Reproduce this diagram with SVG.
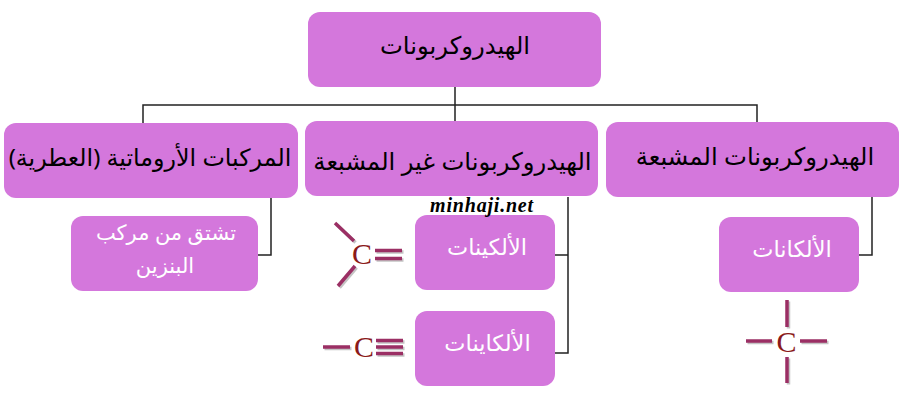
<svg xmlns="http://www.w3.org/2000/svg" width="902" height="401" viewBox="0 0 902 401">
<style>
.n{fill:#d477dc}
.t{font-family:"Noto Sans","DejaVu Sans",sans-serif;font-size:24.300px;fill:#000;text-anchor:middle;direction:rtl}
.w{font-family:"Noto Sans","DejaVu Sans",sans-serif;font-size:22.500px;fill:#fff;text-anchor:middle;direction:rtl}
.w2{font-size:21px}
.t2{font-size:23.800px}
.c{fill:none;stroke:#222;stroke-width:1.5}
.b{stroke:#9b2f64;stroke-width:3.500;fill:none}
.s{stroke:#c4c4c4;stroke-width:3.500;fill:none}
.l{font-family:"Liberation Serif",serif;font-size:30px;fill:#8b1a1a;text-anchor:middle}
</style>
<defs>
<path id="alkeneBars" d="M335 223L354 241M338 286L355 266M375 250.500H402M375 258.500H402"/>
<path id="alkyneBars" d="M323 347H350M376 340.500H403M376 347H403M376 353.500H403"/>
<path id="alkaneBars" d="M787 300V327M787 357V383M746 341H772M800 341H827"/>
</defs>
<g id="connectors">
<path class="c" d="M455 87V105M143 123V105H757V123M455 105V121"/>
<path class="c" d="M568 197V353H554M568 255H554M872 197V255H858M271 197V255H258"/>
</g>
<g id="root"><rect class="n" x="308" y="12" width="293" height="75" rx="12"/><text class="t" x="455" y="54">الهيدروكربونات</text></g>
<g id="n1"><rect class="n" x="4" y="123" width="294" height="75" rx="12"/><text class="t t2" x="150" y="166">المركبات الأروماتية (العطرية)</text></g>
<g id="n2"><rect class="n" x="305" y="121" width="293" height="75" rx="12"/><text class="t" x="452.500" y="170">الهيدروكربونات غير المشبعة</text></g>
<g id="n3"><rect class="n" x="606" y="122" width="293" height="75" rx="12"/><text class="t" x="755" y="165">الهيدروكربونات المشبعة</text></g>
<g id="n4"><rect class="n" x="71" y="216" width="187" height="75" rx="12"/><text class="w w2" x="166" y="240">تشتق من مركب</text><text class="w w2" x="165" y="273">البنزين</text></g>
<g id="n5"><rect class="n" x="415" y="215" width="140" height="75" rx="12"/><text class="w" x="487" y="255">الألكينات</text></g>
<g id="n6"><rect class="n" x="415" y="311" width="140" height="75" rx="12"/><text class="w" x="487.500" y="351">الألكاينات</text></g>
<g id="n7"><rect class="n" x="719" y="217" width="140" height="75" rx="12"/><text class="w" x="792" y="257">الألكانات</text></g>
<text x="482" y="212" font-family="Liberation Serif,serif" font-size="20" font-style="italic" font-weight="bold" letter-spacing="0.800" text-anchor="middle">minhaji.net</text>
<g id="alkene"><use href="#alkeneBars" class="s" x="1.500" y="1.500"/><use href="#alkeneBars" class="b"/><text class="l" x="362" y="264">C</text></g>
<g id="alkyne"><use href="#alkyneBars" class="s" x="1.500" y="1.500"/><use href="#alkyneBars" class="b"/><text class="l" x="364" y="357">C</text></g>
<g id="alkane"><use href="#alkaneBars" class="s" x="1.500" y="1.500"/><use href="#alkaneBars" class="b"/><text class="l" x="786.500" y="352">C</text></g>
</svg>
